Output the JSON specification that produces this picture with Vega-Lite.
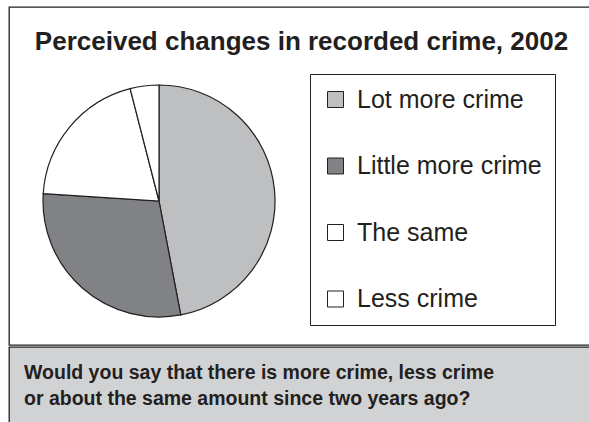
{
  "$schema": "https://vega.github.io/schema/vega-lite/v6.json",
  "padding": {"left": 8, "top": 6, "right": 0, "bottom": 0},
  "background": "white",
  "spacing": 0,
  "config": {
    "font": "Liberation Sans",
    "view": {"stroke": "#231f20", "strokeWidth": 1.3},
    "legend": {
      "orient": "none",
      "legendX": 301,
      "legendY": 67,
      "strokeColor": "#231f20",
      "fillColor": "white",
      "padding": 13,
      "symbolType": "square",
      "symbolSize": 256,
      "symbolStrokeColor": "#231f20",
      "symbolStrokeWidth": 1,
      "labelFontSize": 25,
      "labelFont": "Liberation Sans",
      "labelColor": "#231f20",
      "rowPadding": 40.5,
      "labelOffset": 9,
      "labelLimit": 300
    }
  },
  "vconcat": [
    {
      "width": 583,
      "height": 338,
      "view": {"stroke": "#231f20", "strokeWidth": 1.3},
      "data": {
        "values": [
          {"answer": "Lot more crime", "percent": 47, "rank": 1},
          {"answer": "Little more crime", "percent": 29, "rank": 2},
          {"answer": "The same", "percent": 20, "rank": 3},
          {"answer": "Less crime", "percent": 4, "rank": 4}
        ]
      },
      "layer": [
        {
          "mark": {"type": "arc", "x": 150, "y": 194, "outerRadius": 116, "stroke": "#231f20", "strokeWidth": 1.2},
          "encoding": {
            "theta": {"field": "percent", "type": "quantitative", "stack": true},
            "order": {"field": "rank", "type": "quantitative"},
            "color": {
              "field": "answer",
              "type": "nominal",
              "scale": {
                "domain": ["Lot more crime", "Little more crime", "The same", "Less crime"],
                "range": ["#bebfc1", "#818285", "#ffffff", "#ffffff"]
              },
              "legend": {"title": null}
            }
          }
        },
        {
          "data": {"values": [{"title": "Perceived changes in recorded crime, 2002"}]},
          "mark": {"type": "text", "x": 292.5, "y": 43, "align": "center", "baseline": "alphabetic", "fontSize": 26, "fontWeight": "bold", "color": "#231f20"},
          "encoding": {"text": {"field": "title"}}
        }
      ]
    },
    {
      "width": 583,
      "height": 78,
      "view": {"fill": "#d1d2d4", "stroke": "#231f20", "strokeWidth": 1.3},
      "data": {"values": [{"question": ["Would you say that there is more crime, less crime", "or about the same amount since two years ago?"]}]},
      "mark": {"type": "text", "x": 15, "y": 32, "align": "left", "baseline": "alphabetic", "fontSize": 19.5, "fontWeight": "bold", "lineHeight": 26, "color": "#231f20"},
      "encoding": {"text": {"field": "question"}}
    }
  ]
}
